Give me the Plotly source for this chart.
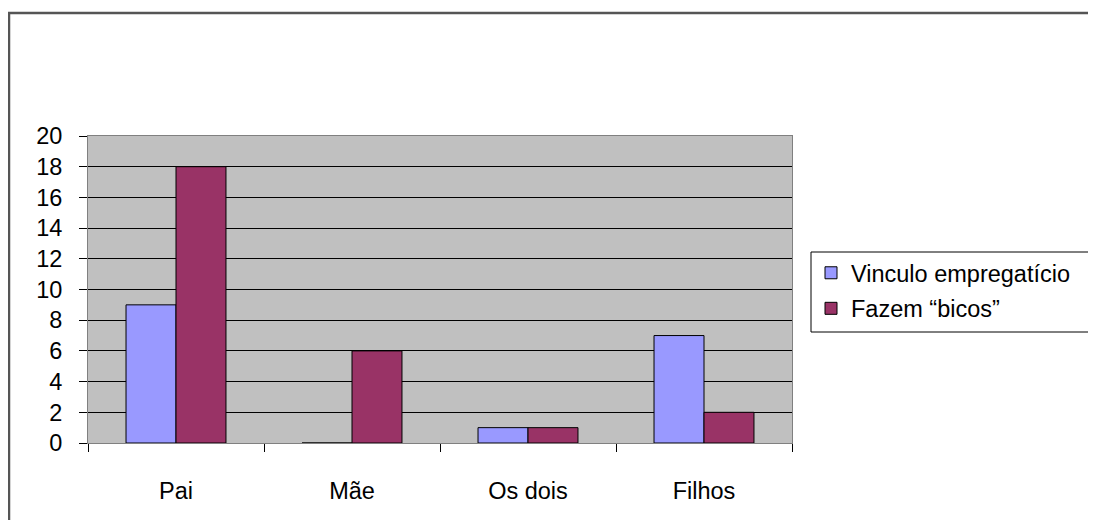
import plotly.graph_objects as go

categories = ["Pai", "Mãe", "Os dois", "Filhos"]
vinculo = [9, 0, 1, 7]
bicos = [18, 6, 1, 2]
series_names = ["Vinculo empregatício", "Fazem “bicos”"]
y_ticks = list(range(0, 21, 2))

FONT = "Liberation Sans, Arial, sans-serif"
FS = 23.5

fig = go.Figure()
fig.add_trace(go.Bar(x=categories, y=vinculo, name=series_names[0], legendgroup="a",
                     marker=dict(color="#9999FF", line=dict(color="#000000", width=1))))
fig.add_trace(go.Bar(x=categories, y=bicos, name=series_names[1], legendgroup="b",
                     marker=dict(color="#993366", line=dict(color="#000000", width=1))))

# figure is offset by the page's 8px body margin
W, H = 1088, 512
L, T = 80, 128
PR, PB = 784, 435          # plot right / bottom in figure px
R, B = W - PR, H - PB
pw, ph = PR - L, PB - T


def px(x):
    return (x - L) / pw


def py(y):
    return (PB - y) / ph


fig.update_layout(
    width=W, height=H,
    margin=dict(l=L, r=R, t=T, b=B, autoexpand=False),
    paper_bgcolor="white",
    plot_bgcolor="#C0C0C0",
    barmode="group",
    bargap=0.432,
    bargroupgap=0,
    font=dict(family=FONT, size=FS, color="black"),
    showlegend=True,
    legend=dict(
        x=px(803), xanchor="left",
        y=py(243), yanchor="top",
        bgcolor="rgba(0,0,0,0)", borderwidth=0,
        font=dict(family=FONT, size=FS, color="black"),
        tracegroupgap=2,
    ),
    xaxis=dict(
        type="category",
        showgrid=False,
        showline=True, linecolor="#808080", linewidth=1, mirror=True,
        ticks="outside", ticklen=8, tickcolor="black", tickwidth=1,
        tickson="boundaries",
        ticklabelstandoff=27,
        tickfont=dict(family=FONT, size=FS, color="black"),
    ),
    yaxis=dict(
        range=[0, 20],
        tickvals=y_ticks,
        showgrid=True, gridcolor="black", gridwidth=1,
        zeroline=True, zerolinecolor="black", zerolinewidth=1,
        showline=True, linecolor="#808080", linewidth=1, mirror=True,
        ticks="outside", ticklen=8, tickcolor="black", tickwidth=1,
        ticklabelstandoff=12,
        tickfont=dict(family=FONT, size=FS, color="black"),
    ),
    shapes=[
        dict(type="rect", xref="paper", yref="paper",
             x0=px(1), x1=px(W + 20), y0=-0.5, y1=py(5),
             line=dict(color="#555555", width=2.5),
             fillcolor="rgba(0,0,0,0)", layer="below"),
        dict(type="rect", xref="paper", yref="paper",
             x0=px(803), x1=px(1085), y0=py(324), y1=py(244),
             line=dict(color="black", width=1),
             fillcolor="white", layer="below"),
    ],
)

fig.write_html("out.html")
